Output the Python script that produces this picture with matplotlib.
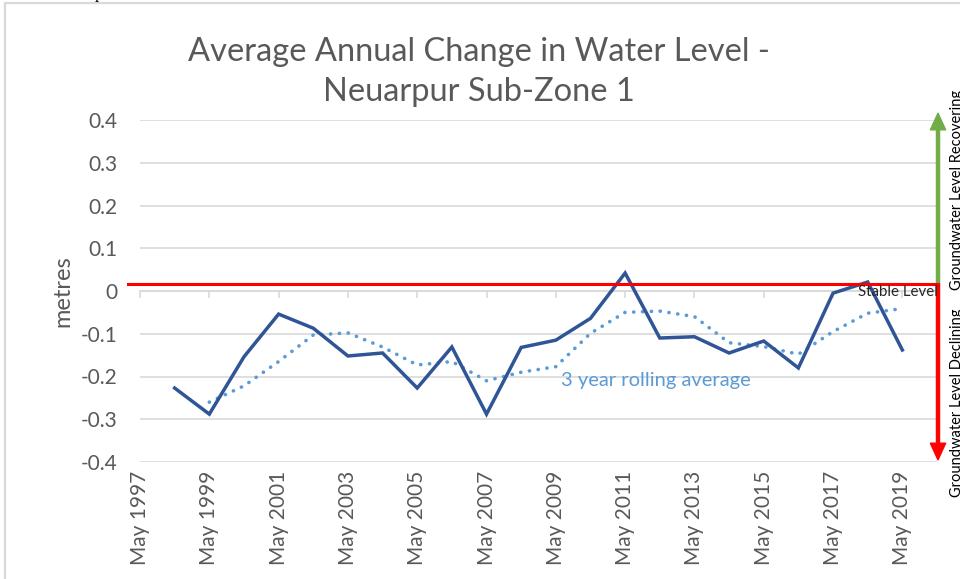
import matplotlib
matplotlib.use("Agg")
import matplotlib.pyplot as plt
from matplotlib.patches import Rectangle
import matplotlib.transforms as mtransforms

# ---- data ----
years = list(range(1998, 2020))
annual_change = [-0.227, -0.288, -0.154, -0.054, -0.087, -0.152, -0.145, -0.227,
                 -0.131, -0.288, -0.132, -0.115, -0.064, 0.042, -0.110, -0.107,
                 -0.145, -0.117, -0.180, -0.005, 0.021, -0.138]
rolling_years = list(range(1999, 2020))
rolling_avg = [-0.260, -0.222, -0.165, -0.103, -0.098, -0.131, -0.173, -0.165,
               -0.210, -0.190, -0.177, -0.099, -0.050, -0.047, -0.060, -0.121,
               -0.130, -0.148, -0.095, -0.052, -0.041]
stable_level = 0.016
tick_years = list(range(1997, 2020, 2))
tick_labels = [f"May {y}" for y in tick_years]
y_ticks = [-0.4, -0.3, -0.2, -0.1, 0, 0.1, 0.2, 0.3, 0.4]
y_labels = ["-0.4", "-0.3", "-0.2", "-0.1", "0", "0.1", "0.2", "0.3", "0.4"]

plt.rcParams['font.family'] = ['Lato', 'DejaVu Sans']
GRAY = '#595959'
GRID = '#D9D9D9'

W, H = 960, 579
fig = plt.figure(figsize=(W / 100, H / 100), dpi=100)

# chart border
fig.patches.append(Rectangle((5 / W, -0.05), 1.2, 1 - 3 / H + 0.05,
                             transform=fig.transFigure, fill=False,
                             edgecolor=GRID, linewidth=1.6, zorder=0))
# stray descender from text above the chart
fig.text(95 / W, 1 + 1.5 / H, "p", family="Liberation Serif", fontsize=12,
         color="black", va="baseline", ha="left")

ax = fig.add_axes([140 / W, (H - 462) / H, 797 / W, 342 / H])
ax.set_xlim(1997, 2020)
ax.set_ylim(-0.4, 0.4)

for s in ['top', 'right', 'left']:
    ax.spines[s].set_visible(False)
ax.spines['bottom'].set_position(('data', 0))
ax.spines['bottom'].set_color(GRID)
ax.spines['bottom'].set_linewidth(1.2)

ax.set_yticks(y_ticks)
ax.set_yticklabels(y_labels)
ax.tick_params(axis='y', length=0, pad=16.5, labelsize=15, labelcolor=GRAY)
ax.yaxis.grid(True, color=GRID, linewidth=1.2)
ax.set_axisbelow(True)

ax.set_xticks(tick_years)
ax.tick_params(axis='x', length=5, width=1.2, color=GRID, direction='out',
               labelbottom=False)

sec = ax.secondary_xaxis('bottom')
sec.set_xticks(tick_years)
sec.set_xticklabels(tick_labels, rotation=90, va='top', ha='center')
sec.tick_params(axis='x', length=0, pad=6, labelsize=15, labelcolor=GRAY)
sec.spines['bottom'].set_visible(False)

ax.set_ylabel("metres", fontsize=17, color=GRAY, labelpad=5)

# series
ax.plot(rolling_years, rolling_avg, color='#5B9BD5', linewidth=2.6,
        linestyle=(0, (0.05, 2.4)), dash_capstyle='round', zorder=3)
ax.plot(years, annual_change, color='#2F5597', linewidth=2.5,
        solid_joinstyle='miter', zorder=4)

# stable level line
blend = mtransforms.blended_transform_factory(ax.transAxes, ax.transData)
ax.plot([-12 / 797, 798 / 797], [stable_level, stable_level], color='#FF0000',
        linewidth=2.2, transform=blend, clip_on=False, zorder=5)

# arrows
ax.annotate("", xy=(798 / 797, 0.416), xytext=(798 / 797, stable_level),
            xycoords=blend, textcoords=blend, annotation_clip=False,
            arrowprops=dict(color='#70AD47', width=2.2, headwidth=11,
                            headlength=12, shrink=0))
ax.annotate("", xy=(798 / 797, -0.395), xytext=(798 / 797, stable_level),
            xycoords=blend, textcoords=blend, annotation_clip=False,
            arrowprops=dict(color='#FF0000', width=2.2, headwidth=11,
                            headlength=12, shrink=0))

# side texts
fig.text(957 / W, (H - 290) / H, "Groundwater Level Recovering", rotation=90,
         fontsize=10.5, color="black", ha="center", va="bottom")
fig.text(957 / W, (H - 497) / H, "Groundwater Level Declining", rotation=90,
         fontsize=10.5, color="black", ha="center", va="bottom")

ax.text(2017.72, -0.002, "Stable Level", fontsize=10.8, color='#262626',
        ha='left', va='center', zorder=6)
ax.text(2009.15, -0.21, "3 year rolling average", fontsize=14.5,
        color='#5B9BD5', ha='left', va='center')

fig.text(479 / W, (H - 72) / H,
         "Average Annual Change in Water Level -\nNeuarpur Sub-Zone 1",
         fontsize=23.5, color=GRAY, ha='center', va='center',
         linespacing=1.4)

fig.savefig("out.png", dpi=100)
